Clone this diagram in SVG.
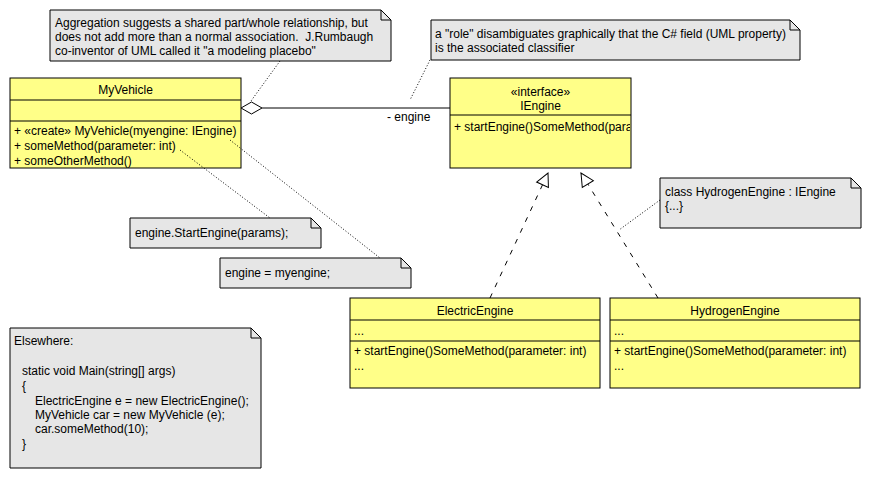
<svg xmlns="http://www.w3.org/2000/svg" width="870" height="478" viewBox="0 0 870 478">
<style>
text{font-family:"Liberation Sans",Arial,sans-serif;font-size:12px;fill:#000}
.cls{fill:#ffff88;stroke:#000;stroke-width:1}
.note{fill:#e6e6e6;stroke:#000;stroke-width:1}
.fold{fill:none;stroke:#000;stroke-width:1}
.sep{stroke:#000;stroke-width:1;fill:none}
.mid{text-anchor:middle}
.dot{stroke:#000;stroke-width:1;stroke-dasharray:1 2;fill:none}
.dash{stroke:#000;stroke-width:1;stroke-dasharray:5 7;fill:none}
.solid{stroke:#000;stroke-width:1;fill:none}
</style>
<defs>
<marker id="real" markerUnits="userSpaceOnUse" markerWidth="16" markerHeight="16" viewBox="0 0 16 16" refX="14" refY="8" orient="auto">
<path d="M1,1.5 L14,8 L1,14.5 Z" fill="#fff" stroke="#000" stroke-width="1"/>
</marker>
<clipPath id="ieclip"><rect x="450" y="115" width="180" height="53"/></clipPath>
</defs>

<g id="note-aggregation">
<path class="note" d="M50,10 H381 L391,20 V61 H50 Z"/>
<path class="fold" d="M381,10 V20 H391"/>
<text x="55" y="27">Aggregation suggests a shared part/whole relationship, but</text>
<text x="55" y="41" xml:space="preserve">does not add more than a normal association.  J.Rumbaugh</text>
<text x="55" y="55">co-inventor of UML called it "a modeling placebo"</text>
</g>

<g id="note-role">
<path class="note" d="M431,20 H790 L800,30 V60 H431 Z"/>
<path class="fold" d="M790,20 V30 H800"/>
<text x="435" y="38">a "role" disambiguates graphically that the C# field (UML property)</text>
<text x="435" y="52">is the associated classifier</text>
</g>

<g id="MyVehicle">
<rect class="cls" x="10" y="78" width="231" height="90"/>
<line class="sep" x1="10" y1="100" x2="241" y2="100"/>
<line class="sep" x1="10" y1="121" x2="241" y2="121"/>
<text class="mid" x="125.5" y="94">MyVehicle</text>
<text x="14" y="135">+ «create» MyVehicle(myengine: IEngine)</text>
<text x="14" y="150">+ someMethod(parameter: int)</text>
<text x="14" y="165">+ someOtherMethod()</text>
</g>

<g id="IEngine">
<rect class="cls" x="450" y="78" width="181" height="90"/>
<line class="sep" x1="450" y1="115" x2="631" y2="115"/>
<text class="mid" x="540.5" y="96">«interface»</text>
<text class="mid" x="540.5" y="110">IEngine</text>
<text x="454" y="131" clip-path="url(#ieclip)">+ startEngine()SomeMethod(parameter: int)</text>
</g>

<g id="note-hydrogen">
<path class="note" d="M660,178 H851 L861,188 V228 H660 Z"/>
<path class="fold" d="M851,178 V188 H861"/>
<text x="665" y="196">class HydrogenEngine : IEngine</text>
<text x="665" y="210">{...}</text>
</g>

<g id="note-startengine">
<path class="note" d="M130,218 H311 L321,228 V248 H130 Z"/>
<path class="fold" d="M311,218 V228 H321"/>
<text x="135" y="237">engine.StartEngine(params);</text>
</g>

<g id="note-myengine">
<path class="note" d="M220,258 H401 L411,268 V288 H220 Z"/>
<path class="fold" d="M401,258 V268 H411"/>
<text x="225" y="277">engine = myengine;</text>
</g>

<g id="ElectricEngine">
<rect class="cls" x="350" y="298" width="250" height="90"/>
<line class="sep" x1="350" y1="320" x2="600" y2="320"/>
<line class="sep" x1="350" y1="341" x2="600" y2="341"/>
<text class="mid" x="475" y="315">ElectricEngine</text>
<text x="354" y="335">...</text>
<text x="354" y="355">+ startEngine()SomeMethod(parameter: int)</text>
<text x="354" y="370">...</text>
</g>

<g id="HydrogenEngine">
<rect class="cls" x="610" y="298" width="250" height="90"/>
<line class="sep" x1="610" y1="320" x2="860" y2="320"/>
<line class="sep" x1="610" y1="341" x2="860" y2="341"/>
<text class="mid" x="735" y="315">HydrogenEngine</text>
<text x="614" y="335">...</text>
<text x="614" y="355">+ startEngine()SomeMethod(parameter: int)</text>
<text x="614" y="370">...</text>
</g>

<g id="note-elsewhere">
<path class="note" d="M10,328 H251 L261,338 V468 H10 Z"/>
<path class="fold" d="M251,328 V338 H261"/>
<text x="14" y="345">Elsewhere:</text>
<text x="22" y="375">static void Main(string[] args)</text>
<text x="22" y="390">{</text>
<text x="35" y="405">ElectricEngine e = new ElectricEngine();</text>
<text x="35" y="419">MyVehicle car = new MyVehicle (e);</text>
<text x="35" y="433">car.someMethod(10);</text>
<text x="22" y="448">}</text>
</g>

<g id="connectors">
<line class="dot" x1="280" y1="61" x2="251" y2="101"/>
<line class="dot" x1="430" y1="60" x2="410" y2="100"/>
<line class="dot" x1="180" y1="150" x2="270" y2="218"/>
<line class="dot" x1="230" y1="140" x2="380" y2="258"/>
<line class="dot" x1="660" y1="200" x2="619" y2="230"/>
<line class="solid" x1="262" y1="108" x2="450" y2="108"/>
<path d="M241,108 L251.5,102 L262,108 L251.5,114 Z" fill="#fff" stroke="#000" stroke-width="1"/>
<text x="387" y="121">- engine</text>
<line class="dash" x1="490" y1="298" x2="548" y2="173" marker-end="url(#real)"/>
<line class="dash" x1="658" y1="298" x2="581" y2="173" marker-end="url(#real)"/>
</g>
</svg>
